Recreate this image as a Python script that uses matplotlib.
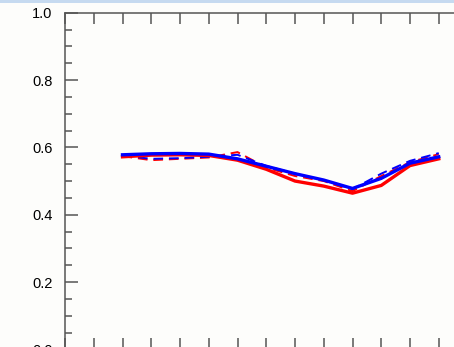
import matplotlib.pyplot as plt
from matplotlib.patches import Rectangle
from matplotlib.ticker import MultipleLocator

plt.rcParams['font.family'] = ['Liberation Sans', 'DejaVu Sans']

x = [2, 3, 4, 5, 6, 7, 8, 9, 10, 11, 12, 13]
blue_solid = [0.578, 0.581, 0.582, 0.580, 0.566, 0.544, 0.522, 0.503, 0.478, 0.508, 0.553, 0.572]
red_solid = [0.572, 0.577, 0.578, 0.576, 0.562, 0.535, 0.500, 0.485, 0.464, 0.487, 0.546, 0.566]
blue_dashed = [0.576, 0.566, 0.568, 0.572, 0.578, 0.545, 0.522, 0.502, 0.476, 0.522, 0.560, 0.583]
red_dashed = [0.574, 0.562, 0.566, 0.570, 0.586, 0.540, 0.515, 0.500, 0.470, 0.515, 0.556, 0.580]

W, H = 454, 347
fig = plt.figure(figsize=(W / 100, H / 100), dpi=100)
fig.patch.set_facecolor('#fdfdfb')
fig.patches.append(Rectangle((0, 1 - 2.5 / H), 1, 2.5 / H, transform=fig.transFigure,
                             facecolor='#c6daf0', edgecolor='none'))

# axes run past the right and bottom edges of the canvas
left, top, bottom = 65 / W, 1 - 12.7 / H, (H - 349.4) / H
ax = fig.add_axes([left, bottom, 402.5 / W, top - bottom])
ax.set_facecolor('#fdfdfb')

ax.plot(x, red_dashed, color='red', lw=1.4, ls=(0, (5, 3)))
ax.plot(x, blue_dashed, color='blue', lw=1.4, ls=(0, (5, 3)))
ax.plot(x, red_solid, color='red', lw=2.4)
ax.plot(x, blue_solid, color='blue', lw=2.4)

ax.set_xlim(0, 14)
ax.set_ylim(0, 1.0)
ax.set_xticks(range(15))
ax.set_xticklabels([])
ax.set_yticks([0, 0.2, 0.4, 0.6, 0.8, 1.0])
ax.set_yticklabels(['0.0', '0.2', '0.4', '0.6', '0.8', '1.0'])
ax.yaxis.set_minor_locator(MultipleLocator(0.05))
ax.tick_params(axis='x', which='both', direction='in', length=8, width=1.1,
               color='#555555', top=True, bottom=True)
ax.tick_params(axis='y', which='major', direction='in', length=9.4, width=1.1,
               color='#555555', labelsize=10.5, pad=9)
ax.tick_params(axis='y', which='minor', direction='in', length=5, width=1.1,
               color='#555555')
for s in ax.spines.values():
    s.set_color('#555555')
    s.set_linewidth(1.1)

fig.savefig('out.png', dpi=100, facecolor=fig.get_facecolor())
